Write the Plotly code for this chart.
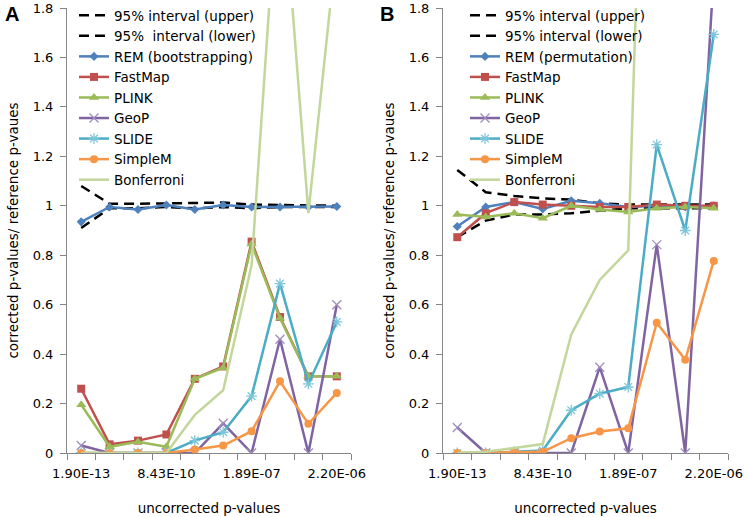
import plotly.graph_objects as go

# category positions (10 uncorrected p-value bins) and the labels shown
x_pos = [1, 2, 3, 4, 5, 6, 7, 8, 9, 10]
tick_pos = [1, 4, 7, 10]
tick_labels = ["1.90E-13", "8.43E-10", "1.89E-07", "2.20E-06"]
y_ticks = [0, 0.2, 0.4, 0.6, 0.8, 1.0, 1.2, 1.4, 1.6, 1.8]
y_tick_labels = ["0", "0.2", "0.4", "0.6", "0.8", "1", "1.2", "1.4", "1.6", "1.8"]

# Panel A (bootstrapping)
a_upper = [1.08, 1.008, 1.008, 1.01, 1.012, 1.013, 1.005, 1.003, 1.002, 1.0]
a_lower = [0.91, 0.99, 0.99, 0.995, 0.99, 0.995, 0.99, 0.995, 0.995, 0.995]
a_rem = [0.935, 0.995, 0.985, 1.003, 0.985, 1.003, 0.995, 0.995, 0.995, 0.997]
a_fastmap = [0.26, 0.035, 0.05, 0.075, 0.30, 0.35, 0.855, 0.55, 0.31, 0.31]
a_plink = [0.195, 0.025, 0.045, 0.025, 0.30, 0.345, 0.845, 0.545, 0.31, 0.31]
a_geop = [0.03, 0.0, 0.0, 0.0, 0.0, 0.12, 0.0, 0.46, 0.0, 0.60]
a_slide = [0.0, 0.0, 0.0, 0.0, 0.05, 0.084, 0.23, 0.685, 0.28, 0.53]
a_simplem = [0.0, 0.0, 0.0, 0.0, 0.014, 0.03, 0.088, 0.29, 0.118, 0.243]
a_bonf = [0.0, 0.0, 0.0, 0.0, 0.154, 0.254, 0.76, 2.45, 0.97, 2.06]

# Panel B (permutation)
b_upper = [1.145, 1.055, 1.04, 1.03, 1.025, 1.01, 1.005, 1.005, 1.005, 1.005]
b_lower = [0.873, 0.94, 0.965, 0.965, 0.97, 0.98, 0.99, 0.99, 0.99, 0.99]
b_rem = [0.916, 0.995, 1.015, 0.987, 1.02, 1.01, 0.995, 1.0, 0.995, 1.0]
b_fastmap = [0.873, 0.97, 1.015, 1.005, 1.0, 0.995, 0.995, 1.005, 1.0, 1.0]
b_plink = [0.965, 0.955, 0.97, 0.95, 1.0, 0.985, 0.975, 0.99, 0.995, 0.99]
b_geop = [0.103, 0.0, 0.0, 0.0, 0.0, 0.347, 0.0, 0.843, 0.0, 1.94]
b_slide = [0.0, 0.0, 0.005, 0.01, 0.173, 0.24, 0.267, 1.247, 0.90, 1.693]
b_simplem = [0.0, 0.0, 0.003, 0.005, 0.06, 0.087, 0.10, 0.527, 0.377, 0.777]
b_bonf = [0.0, 0.005, 0.02, 0.036, 0.48, 0.70, 0.82, 4.5, 4.0, 4.6]

FONT = "DejaVu Sans"
C_REM = "#4F81BD"
C_FAST = "#C0504D"
C_PLINK = "#9BBB59"
C_GEOP = "#8064A2"
C_SLIDE = "#4BACC6"
C_SIMPLE = "#F79646"
C_BONF = "#C3D69B"

fig = go.Figure()


def add_panel(xa, ya, leg, up, lo, rem, remname, fm, pl, gp, sl, sm, bf, lowername):
    common = dict(x=x_pos, xaxis=xa, yaxis=ya, legend=leg, mode="lines")
    fig.add_trace(go.Scatter(y=up, name="95% interval (upper)",
                             line=dict(color="black", width=2.5, dash="10px,6px"), **common))
    fig.add_trace(go.Scatter(y=lo, name=lowername,
                             line=dict(color="black", width=2.5, dash="10px,6px"), **common))
    c2 = dict(x=x_pos, xaxis=xa, yaxis=ya, legend=leg, mode="lines+markers", cliponaxis=True)
    fig.add_trace(go.Scatter(y=rem, name=remname, line=dict(color=C_REM, width=2.5),
                             marker=dict(symbol="diamond", size=7, color=C_REM), **c2))
    fig.add_trace(go.Scatter(y=fm, name="FastMap", line=dict(color=C_FAST, width=2.5),
                             marker=dict(symbol="square", size=8, color=C_FAST), **c2))
    fig.add_trace(go.Scatter(y=pl, name="PLINK", line=dict(color=C_PLINK, width=2.5),
                             marker=dict(symbol="triangle-up", size=9, color=C_PLINK), **c2))
    fig.add_trace(go.Scatter(y=gp, name="GeoP", line=dict(color=C_GEOP, width=2.5),
                             marker=dict(symbol="x-thin", size=9, color=C_GEOP,
                                         line=dict(color="#9F8CBC", width=1.3)), **c2))
    fig.add_trace(go.Scatter(y=sl, name="SLIDE", line=dict(color=C_SLIDE, width=2.5),
                             marker=dict(symbol="asterisk", size=9, color=C_SLIDE,
                                         line=dict(color="#7CC6DA", width=1.3)), **c2))
    fig.add_trace(go.Scatter(y=sm, name="SimpleM", line=dict(color=C_SIMPLE, width=2.5),
                             marker=dict(symbol="circle", size=8, color=C_SIMPLE), **c2))
    fig.add_trace(go.Scatter(y=bf, name="Bonferroni", line=dict(color=C_BONF, width=2.5),
                             **common))


add_panel("x", "y", "legend", a_upper, a_lower, a_rem, "REM (bootstrapping)",
          a_fastmap, a_plink, a_geop, a_slide, a_simplem, a_bonf,
          "95%\u00a0 interval (lower)")
add_panel("x2", "y2", "legend2", b_upper, b_lower, b_rem, "REM (permutation)",
          b_fastmap, b_plink, b_geop, b_slide, b_simplem, b_bonf,
          "95% interval (lower)")

W, H = 747, 517
axis_col = "#868686"
xcommon = dict(range=[0.5, 10.5], tickmode="array", tickvals=tick_pos, ticktext=tick_labels,
               ticks="", showline=True, linecolor=axis_col, linewidth=1, showgrid=False,
               zeroline=False, tickfont=dict(family=FONT, size=13, color="black"),
               ticklabelstandoff=8, automargin=False,
               minor=dict(tickmode="linear", tick0=0.5, dtick=1, ticks="outside",
                          ticklen=6, tickcolor=axis_col, showgrid=False),
               title=dict(text="uncorrected p-values", font=dict(family=FONT, size=13.5, color="black"),
                          standoff=23))
ycommon = dict(range=[0, 1.8], tickmode="array", tickvals=y_ticks, ticktext=y_tick_labels,
               ticks="outside", ticklen=6, tickcolor=axis_col, ticklabelstandoff=4,
               showline=True, linecolor=axis_col, linewidth=1, showgrid=False, zeroline=False,
               tickfont=dict(family=FONT, size=13, color="black"), automargin=False,
               title=dict(text="corrected p-values/ reference p-vaues",
                          font=dict(family=FONT, size=13.5, color="black"), standoff=10))

ydom = [1 - 453 / H, 1 - 8 / H]
legfont = dict(family=FONT, size=13.5, color="black")
fig.update_layout(
    width=W, height=H, margin=dict(l=0, r=0, t=0, b=0, autoexpand=False),
    paper_bgcolor="white", plot_bgcolor="white",
    xaxis=dict(domain=[67 / W, 351 / W], anchor="y", **xcommon),
    yaxis=dict(domain=ydom, anchor="x", **ycommon),
    xaxis2=dict(domain=[443 / W, 728 / W], anchor="y2", **xcommon),
    yaxis2=dict(domain=ydom, anchor="x2", **ycommon),
    legend=dict(x=74 / W, y=1, xanchor="left", yanchor="top", bgcolor="rgba(0,0,0,0)",
                font=legfont, tracegroupgap=0),
    legend2=dict(x=465 / W, y=1, xanchor="left", yanchor="top", bgcolor="rgba(0,0,0,0)",
                 font=legfont, tracegroupgap=0),
    annotations=[
        dict(text="<b>A</b>", x=3 / W, y=1 - 1 / H, xref="paper", yref="paper", xanchor="left",
             yanchor="top", showarrow=False, font=dict(family="Liberation Sans", size=20, color="black")),
        dict(text="<b>B</b>", x=378 / W, y=1 - 1 / H, xref="paper", yref="paper", xanchor="left",
             yanchor="top", showarrow=False, font=dict(family="Liberation Sans", size=20, color="black")),
    ],
)

fig.write_html("out.html", config={"displayModeBar": False},
               post_script="document.body.style.margin='0';document.body.style.overflow='hidden';")
